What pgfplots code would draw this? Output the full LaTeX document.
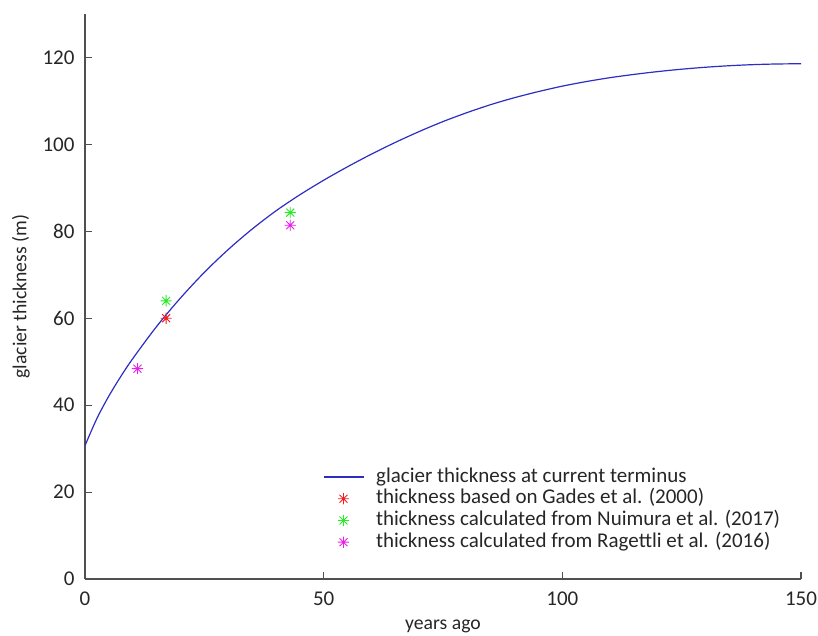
\documentclass[border=0pt]{standalone}
\usepackage{fontspec}
\setmainfont{Carlito}
\usepackage{pgfplots}
\pgfplotsset{compat=1.18}
\definecolor{axgray}{RGB}{80,80,80}
\definecolor{txtgray}{RGB}{38,38,38}
\definecolor{mblue}{RGB}{45,45,195}
\definecolor{mred}{RGB}{240,30,30}
\definecolor{mgreen}{RGB}{40,235,40}
\definecolor{mmag}{RGB}{235,30,235}
\pgfdeclareplotmark{mstar}{%
 \pgfpathmoveto{\pgfqpoint{-\pgfplotmarksize}{0pt}}\pgfpathlineto{\pgfqpoint{\pgfplotmarksize}{0pt}}%
 \pgfpathmoveto{\pgfqpoint{0pt}{-\pgfplotmarksize}}\pgfpathlineto{\pgfqpoint{0pt}{\pgfplotmarksize}}%
 \pgfpathmoveto{\pgfqpoint{-.707\pgfplotmarksize}{-.707\pgfplotmarksize}}\pgfpathlineto{\pgfqpoint{.707\pgfplotmarksize}{.707\pgfplotmarksize}}%
 \pgfpathmoveto{\pgfqpoint{-.707\pgfplotmarksize}{.707\pgfplotmarksize}}\pgfpathlineto{\pgfqpoint{.707\pgfplotmarksize}{-.707\pgfplotmarksize}}%
 \pgfusepathqstroke}
\pgfplotstableread{
x y
0 30.7
2.5 36.95
5 42.1
7.5 46.6
10 50.7
15 58.1
20 64.65
25 70.55
30 75.8
35 80.5
40 84.7
45 88.4
50 91.75
55 94.85
60 97.75
65 100.45
70 102.95
75 105.25
80 107.3
85 109.15
90 110.75
95 112.15
100 113.4
105 114.45
110 115.35
115 116.1
120 116.75
125 117.3
130 117.75
135 118.1
140 118.35
145 118.5
150 118.55
}\curve
\begin{document}
\begin{tikzpicture}
\begin{axis}[
  scale only axis,
  width=716pt, height=565pt,
  xmin=0, xmax=150, ymin=0, ymax=130,
  xtick={0,50,100,150}, ytick={0,20,...,120},
  axis lines*=left,
  axis line style={axgray, line width=1.1pt},
  tick align=inside,
  major tick length=7pt,
  tick style={axgray, line width=1.1pt},
  /pgf/number format/assume math mode=true,
  ticklabel style={font=\fontsize{21}{24}\selectfont, text=txtgray},
  xticklabel style={yshift=-9pt},
  yticklabel style={xshift=-7pt},
  xlabel={years ago}, ylabel={glacier thickness (m)},
  label style={font=\fontsize{19.7}{22}\selectfont, text=txtgray},
  xlabel style={yshift=-8pt},
  ylabel style={yshift=6pt},
  legend style={draw=none, fill=none, at={(axis description cs:0.332,0.200)}, anchor=north west,
    inner sep=0pt, row sep=0pt, column sep=12pt,
    font=\fontsize{21}{22}\selectfont, text=txtgray,
    nodes={inner xsep=0pt, inner ysep=0.85pt, text height=15pt, text depth=5pt}},
  legend cell align=left,
  legend image code/.code={\draw[mark repeat=2,mark phase=2,#1] plot coordinates {(0pt,0pt)(20pt,0pt)(40pt,0pt)};},
  mark size=5.6pt,
]
\addplot[mblue, line width=1.2pt, smooth, no marks] table[x=x,y=y] {\curve};
\addlegendentry{glacier thickness at current terminus}
\addplot[only marks, mark=mstar, mred, line width=0.9pt] coordinates {(17,60.0)};
\addlegendentry{thickness based on Gades et al. (2000)}
\addplot[only marks, mark=mstar, mgreen, line width=0.9pt] coordinates {(17,64.0) (43,84.3)};
\addlegendentry{thickness calculated from Nuimura et al. (2017)}
\addplot[only marks, mark=mstar, mmag, line width=0.9pt] coordinates {(11,48.4) (43,81.4)};
\addlegendentry{thickness calculated from Ragettli et al. (2016)}
\end{axis}
\pgfresetboundingbox
\path[use as bounding box] ([shift={(-85pt,-56pt)}]current axis.south west) rectangle ([shift={(733pt,579pt)}]current axis.south west);
\end{tikzpicture}
\end{document}
